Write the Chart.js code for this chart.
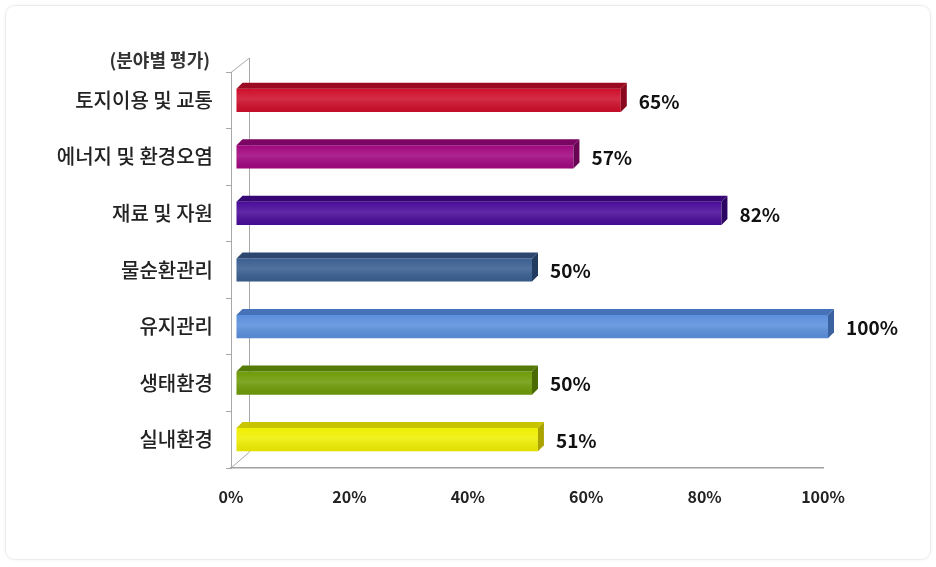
<!DOCTYPE html>
<html>
<head>
<meta charset="utf-8">
<script src="https://cdn.jsdelivr.net/npm/chart.js@4"></script>
<style>
  html, body { margin: 0; padding: 0; background: #fff; }
  #wrap { position: relative; width: 936px; height: 567px; }
  #frame { position: absolute; left: 5px; top: 5px; width: 924px; height: 553px;
           border: 1px solid #ececec; border-radius: 10px; box-shadow: 0 0 3px #f0f0f0; }
  canvas { position: absolute; left: 0; top: 0; }
</style>
</head>
<body>
<div id="wrap">
  <div id="frame"></div>
  <canvas id="chart" width="936" height="567"></canvas>
</div>
<script>
  const categories = ['토지이용 및 교통', '에너지 및 환경오염', '재료 및 자원', '물순환관리', '유지관리', '생태환경', '실내환경'];
  const values = [65, 57, 82, 50, 100, 50, 51];
  const xTicks = [0, 20, 40, 60, 80, 100];
  const axisTitle = '(분야별 평가)';

  const frontColors = ['#cf0f2c', '#a1077f', '#4a0c9a', '#3a5f91', '#5b8fdc', '#6f9b08', '#f0ef02'];
  const topColors   = ['#9a0a22', '#7a0562', '#360774', '#2b4770', '#4572b8', '#557a05', '#c9c400'];
  const sideColors  = ['#8a081d', '#690455', '#2d0663', '#233b5e', '#3a62a0', '#4a6a04', '#aaa300'];

  const FONT = '"Noto Sans CJK KR", "Noto Sans", sans-serif';
  const DX = 6, DY = -6;      // bar depth
  const SHIFT_X = 5;          // bars sit a little behind the front axis

  const bar3d = {
    id: 'bar3d',
    beforeDatasetsDraw(chart) {
      const { ctx, chartArea: a } = chart;
      ctx.save();
      ctx.strokeStyle = '#a8a8a8';
      ctx.lineWidth = 1;
      // back wall and side diagonals
      ctx.beginPath();
      ctx.moveTo(a.left + 18.5, a.top - 14);
      ctx.lineTo(a.left + 18.5, a.bottom - 16);
      ctx.moveTo(a.left, a.top + 0.5);
      ctx.lineTo(a.left + 18.5, a.top - 14);
      ctx.moveTo(a.left, a.bottom);
      ctx.lineTo(a.left + 18.5, a.bottom - 16);
      ctx.stroke();
      // title above the category labels
      ctx.fillStyle = '#333';
      ctx.font = 'bold 18px ' + FONT;
      ctx.textAlign = 'right';
      ctx.textBaseline = 'middle';
      ctx.fillText(axisTitle, 210, 60);
      ctx.restore();
      ctx.save();
      ctx.translate(SHIFT_X, 0);
    },
    afterDatasetsDraw(chart) {
      const ctx = chart.ctx;
      const meta = chart.getDatasetMeta(0);
      meta.data.forEach((bar, i) => {
        const { x, y, base, height } = bar.getProps(['x', 'y', 'base', 'height'], true);
        const top = y - height / 2, bottom = y + height / 2;
        // top face
        ctx.fillStyle = topColors[i];
        ctx.beginPath();
        ctx.moveTo(base, top);
        ctx.lineTo(base + DX, top + DY);
        ctx.lineTo(x + DX, top + DY);
        ctx.lineTo(x, top);
        ctx.closePath();
        ctx.fill();
        // side face
        ctx.fillStyle = sideColors[i];
        ctx.beginPath();
        ctx.moveTo(x, top);
        ctx.lineTo(x + DX, top + DY);
        ctx.lineTo(x + DX, bottom + DY);
        ctx.lineTo(x, bottom);
        ctx.closePath();
        ctx.fill();
        // lighter band on the front face
        const g = ctx.createLinearGradient(0, top, 0, bottom);
        g.addColorStop(0, 'rgba(255,255,255,0)');
        g.addColorStop(0.45, 'rgba(255,255,255,0.12)');
        g.addColorStop(1, 'rgba(0,0,0,0.06)');
        ctx.fillStyle = g;
        ctx.fillRect(base, top, x - base, height);
        // value label
        ctx.fillStyle = '#111';
        ctx.font = 'bold 19px ' + FONT;
        ctx.textAlign = 'left';
        ctx.textBaseline = 'middle';
        ctx.fillText(values[i] + '%', x + DX + 12, y + 1);
      });
      ctx.restore();
    }
  };

  new Chart(document.getElementById('chart'), {
    type: 'bar',
    data: {
      labels: categories,
      datasets: [{
        data: values,
        backgroundColor: frontColors,
        borderWidth: 0,
        categoryPercentage: 1,
        barPercentage: 0.41
      }]
    },
    options: {
      indexAxis: 'y',
      responsive: false,
      animation: false,
      layout: { padding: { left: 0, top: 72, right: 113, bottom: 0 } },
      plugins: { legend: { display: false }, tooltip: { enabled: false } },
      scales: {
        x: {
          min: 0,
          max: 100,
          afterFit: s => { s.height = 99; },
          afterBuildTicks: s => { s.ticks = xTicks.map(v => ({ value: v })); },
          ticks: {
            padding: 19,
            color: '#222',
            font: { family: FONT, size: 16, weight: 'bold' },
            callback: v => v + '%'
          },
          grid: { drawOnChartArea: false, drawTicks: false },
          border: { color: '#a0a0a0', width: 1.5 }
        },
        y: {
          afterFit: s => { s.width = 231; },
          ticks: {
            padding: 13,
            color: '#222',
            font: { family: FONT, size: 20, weight: 500 }
          },
          grid: { drawOnChartArea: false, tickLength: 5, color: '#a8a8a8', offset: true },
          border: { color: '#a8a8a8', width: 1 }
        }
      }
    },
    plugins: [bar3d]
  });
</script>
</body>
</html>
